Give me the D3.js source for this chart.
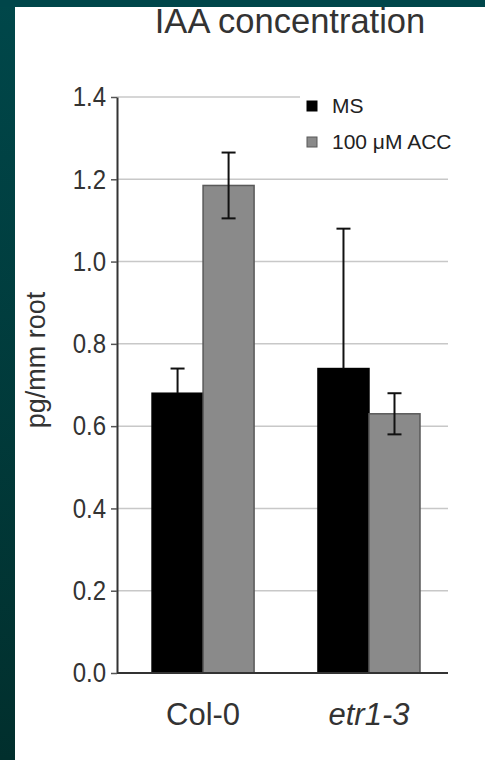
<!DOCTYPE html>
<html>
<head>
<meta charset="utf-8">
<script src="https://cdn.jsdelivr.net/npm/d3@7"></script>
<style>
  body { margin: 0; background: #ffffff; }
  svg { display: block; font-family: "Liberation Sans", Arial, sans-serif; }
</style>
</head>
<body>
<div id="chart"></div>
<script>
// data
const categories = ["Col-0", "etr1-3"];
const seriesNames = ["MS", "100 \u03BCM ACC"];
const msValues = [0.68, 0.74];
const msErrors = [0.06, 0.34];
const accValues = [1.185, 0.63];
const accErrors = [0.08, 0.05];
const yTickValues = [0, 0.2, 0.4, 0.6, 0.8, 1.0, 1.2, 1.4];

// rows for the bars (black bars only show the upper whisker)
const rows = [];
categories.forEach(function (c, i) {
    rows.push({ cat: c, series: seriesNames[0], value: msValues[i], err: msErrors[i], lower: false });
    rows.push({ cat: c, series: seriesNames[1], value: accValues[i], err: accErrors[i], lower: true });
});

// step 1 svg and sizes
const W = 485, H = 760;
const plot = { left: 117, right: 448, top: 97, bottom: 673 };

const svg = d3.select("#chart")
    .append("svg")
    .attr("width", W)
    .attr("height", H);

// slide frame (dark teal)
const defs = svg.append("defs");
const grad = defs.append("linearGradient")
    .attr("id", "frameGrad")
    .attr("x1", 0).attr("y1", 0).attr("x2", 0).attr("y2", 1);
grad.append("stop").attr("offset", "0%").attr("stop-color", "#00474a");
grad.append("stop").attr("offset", "100%").attr("stop-color", "#012f2d");

svg.append("rect")
    .attr("width", W).attr("height", H)
    .attr("fill", "url(#frameGrad)");

svg.append("rect")
    .attr("x", 15).attr("y", 7)
    .attr("width", W - 15).attr("height", H - 7)
    .attr("fill", "#ffffff");

// step 2 scales
const yScale = d3.scaleLinear()
    .domain([0, 1.4])
    .range([plot.bottom, plot.top]);

const xScale = d3.scaleBand()
    .domain(categories)
    .range([plot.left, plot.right])
    .paddingInner(0.385)
    .paddingOuter(0.19)
    .align(0.556);

const xSub = d3.scaleBand()
    .domain(seriesNames)
    .range([0, xScale.bandwidth()]);

const fill = d3.scaleOrdinal()
    .domain(seriesNames)
    .range(["#000000", "#8a8a8a"]);

const stroke = d3.scaleOrdinal()
    .domain(seriesNames)
    .range(["#000000", "#595959"]);

// step 3 gridlines
svg.append("g")
    .attr("class", "grid")
    .selectAll("line")
    .data(yTickValues.filter(function (d) { return d > 0; }))
    .enter()
    .append("line")
    .attr("x1", plot.left)
    .attr("x2", plot.right)
    .attr("y1", function (d) { return yScale(d); })
    .attr("y2", function (d) { return yScale(d); })
    .attr("stroke", "#c8c8c8")
    .attr("stroke-width", 1.5);

// step 4 bars
svg.append("g")
    .selectAll("rect")
    .data(rows)
    .enter()
    .append("rect")
    .attr("x", function (d) { return xScale(d.cat) + xSub(d.series); })
    .attr("y", function (d) { return yScale(d.value); })
    .attr("width", xSub.bandwidth())
    .attr("height", function (d) { return yScale(0) - yScale(d.value); })
    .attr("fill", function (d) { return fill(d.series); })
    .attr("stroke", function (d) { return stroke(d.series); })
    .attr("stroke-width", 1.5);

// error bars
const errG = svg.append("g")
    .selectAll("g")
    .data(rows)
    .enter()
    .append("g")
    .attr("transform", function (d) {
        return "translate(" + (xScale(d.cat) + xSub(d.series) + xSub.bandwidth() / 2) + ",0)";
    });

errG.append("line")
    .attr("y1", function (d) { return yScale(d.lower ? d.value - d.err : d.value); })
    .attr("y2", function (d) { return yScale(d.value + d.err); })
    .attr("stroke", "#111111")
    .attr("stroke-width", 2);

errG.append("line")
    .attr("x1", -7).attr("x2", 7)
    .attr("y1", function (d) { return yScale(d.value + d.err); })
    .attr("y2", function (d) { return yScale(d.value + d.err); })
    .attr("stroke", "#111111")
    .attr("stroke-width", 2);

errG.filter(function (d) { return d.lower; })
    .append("line")
    .attr("x1", -7).attr("x2", 7)
    .attr("y1", function (d) { return yScale(d.value - d.err); })
    .attr("y2", function (d) { return yScale(d.value - d.err); })
    .attr("stroke", "#111111")
    .attr("stroke-width", 2);

// step 5 axes
const yAxis = d3.axisLeft(yScale)
    .tickValues(yTickValues)
    .tickFormat(d3.format(".1f"))
    .tickSize(6)
    .tickPadding(5)
    .tickSizeOuter(0);

const yAxisG = svg.append("g")
    .attr("class", "y axis")
    .attr("transform", "translate(" + plot.left + ",0)")
    .call(yAxis);

yAxisG.select(".domain").attr("stroke", "#333333").attr("stroke-width", 2);
yAxisG.selectAll(".tick line").attr("stroke", "#555555").attr("stroke-width", 1.5);
yAxisG.selectAll(".tick text")
    .attr("font-size", 24)
    .attr("fill", "#333333")
    .attr("font-family", "Liberation Sans, Arial, sans-serif")
    .attr("transform", "scale(1,1.15)");

// baseline
svg.append("line")
    .attr("x1", plot.left)
    .attr("x2", plot.right)
    .attr("y1", yScale(0))
    .attr("y2", yScale(0))
    .attr("stroke", "#333333")
    .attr("stroke-width", 2);

// category labels
svg.append("g")
    .selectAll("text")
    .data(categories)
    .enter()
    .append("text")
    .attr("x", function (d) { return xScale(d) + xScale.bandwidth() / 2; })
    .attr("y", 725)
    .attr("text-anchor", "middle")
    .attr("font-size", 31)
    .attr("fill", "#333333")
    .style("font-style", function (d, i) { return i === 1 ? "italic" : "normal"; })
    .text(function (d) { return d; });

// y label
svg.append("text")
    .attr("transform", "translate(45,360) rotate(-90)")
    .attr("text-anchor", "middle")
    .attr("font-size", 27)
    .attr("fill", "#333333")
    .text("pg/mm root");

// title
svg.append("text")
    .attr("x", 290)
    .attr("y", 33)
    .attr("text-anchor", "middle")
    .attr("font-size", 34.5)
    .attr("fill", "#333333")
    .text("IAA concentration");

// step 6 legend
const legend = svg.append("g")
    .attr("class", "legend")
    .attr("transform", "translate(300,90)");

legend.append("rect")
    .attr("width", 180)
    .attr("height", 66)
    .attr("fill", "#ffffff");

const legendItem = legend.selectAll("g")
    .data(seriesNames)
    .enter()
    .append("g")
    .attr("transform", function (d, i) { return "translate(7," + (11 + i * 36) + ")"; });

legendItem.append("rect")
    .attr("width", 10)
    .attr("height", 10)
    .attr("fill", fill)
    .attr("stroke", stroke)
    .attr("stroke-width", 1);

legendItem.append("text")
    .attr("x", 25)
    .attr("y", 5)
    .attr("dy", "0.35em")
    .attr("font-size", 21)
    .attr("fill", "#222222")
    .text(function (d) { return d; });

// top frame strip drawn last so it trims the title like the slide does
svg.append("rect")
    .attr("x", 0).attr("y", 0)
    .attr("width", W).attr("height", 7)
    .attr("fill", "#00464a");
</script>
</body>
</html>
